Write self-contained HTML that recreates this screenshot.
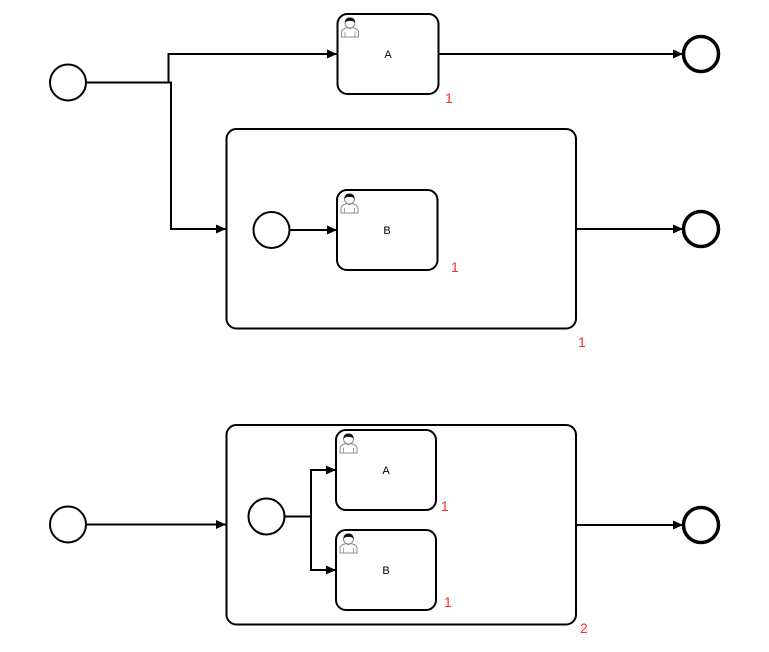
<!DOCTYPE html>
<html><head><meta charset="utf-8"><style>
html,body{margin:0;padding:0;background:#fff;}
svg{display:block;}
.t{font-family:"Liberation Sans",sans-serif;font-size:11px;fill:#000;}
.n{font-family:"Liberation Sans",sans-serif;font-size:14px;fill:#ff2a2a;}
</style></head><body>
<svg width="769" height="652" viewBox="0 0 769 652" xmlns="http://www.w3.org/2000/svg">
<defs>
<marker id="ar" markerWidth="10" markerHeight="9" refX="10" refY="4.5" orient="auto" markerUnits="userSpaceOnUse">
<path d="M0,0 L10,4.5 L0,9 Z" fill="#000"/>
</marker>
<g id="user">
<path d="M1.5,22 L1.5,17 Q2,14 6,13 L8,12.5 Q10,15 12,12.5 L14,13 Q18,14 18.5,17 L18.5,22 Z" fill="#fff" stroke="#8c8c8c" stroke-width="1"/>
<line x1="5" y1="17" x2="5" y2="22" stroke="#8c8c8c" stroke-width="0.8"/>
<line x1="15" y1="17" x2="15" y2="22" stroke="#8c8c8c" stroke-width="0.8"/>
<circle cx="10" cy="8" r="5" fill="#fff" stroke="#8c8c8c" stroke-width="1"/>
<path d="M5,8 Q5,2.5 10,2.5 Q15,2.5 15,8 Q13,5.5 10,6 Q7,5.5 5,8 Z" fill="#111"/>
</g>
</defs>
<g fill="none" stroke="#000" stroke-width="2">
<!-- top start -->
<circle cx="68" cy="82.5" r="18"/>
<polyline points="86,82.5 168.5,82.5 168.5,54 337,54" marker-end="url(#ar)"/>
<polyline points="168.5,82.5 171,82.5 171,229 226,229" marker-end="url(#ar)"/>
<!-- task A -->
<rect x="337.5" y="14" width="101" height="80" rx="10"/>
<line x1="438.5" y1="54" x2="683" y2="54" marker-end="url(#ar)"/>
<circle cx="701" cy="54" r="17.5" stroke-width="3.5"/>
<!-- subprocess 1 -->
<rect x="226.5" y="129" width="349.5" height="199.5" rx="10"/>
<circle cx="271.5" cy="230" r="18"/>
<line x1="289.5" y1="230" x2="337" y2="230" marker-end="url(#ar)"/>
<rect x="337" y="190" width="100.5" height="80" rx="10"/>
<line x1="576" y1="229" x2="683" y2="229" marker-end="url(#ar)"/>
<circle cx="701" cy="229" r="17.5" stroke-width="3.5"/>
<!-- bottom -->
<circle cx="68" cy="524.5" r="18"/>
<line x1="86" y1="524.5" x2="226" y2="524.5" marker-end="url(#ar)"/>
<rect x="226.5" y="425" width="349.5" height="199.5" rx="10"/>
<circle cx="266.5" cy="516.5" r="18"/>
<polyline points="284.5,516.5 311,516.5"/>
<polyline points="311,570 311,470 336,470" marker-end="url(#ar)"/>
<polyline points="311,516 311,570 336,570" marker-end="url(#ar)"/>
<rect x="336" y="430" width="100" height="80" rx="10"/>
<rect x="336" y="530" width="100" height="80" rx="10"/>
<line x1="576" y1="525" x2="683" y2="525" marker-end="url(#ar)"/>
<circle cx="701" cy="525" r="17.5" stroke-width="3.5"/>
</g>
<use href="#user" x="340" y="15"/>
<use href="#user" x="339.5" y="191"/>
<use href="#user" x="338.5" y="431"/>
<use href="#user" x="338.5" y="531"/>
<text class="t" x="388" y="58" text-anchor="middle">A</text>
<text class="t" x="387" y="234" text-anchor="middle">B</text>
<text class="t" x="386" y="474" text-anchor="middle">A</text>
<text class="t" x="386" y="574" text-anchor="middle">B</text>
<text class="n" x="445" y="103">1</text>
<text class="n" x="451" y="272">1</text>
<text class="n" x="578" y="347">1</text>
<text class="n" x="441" y="511">1</text>
<text class="n" x="444" y="607">1</text>
<text class="n" x="580" y="633">2</text>
</svg>
</body></html>
